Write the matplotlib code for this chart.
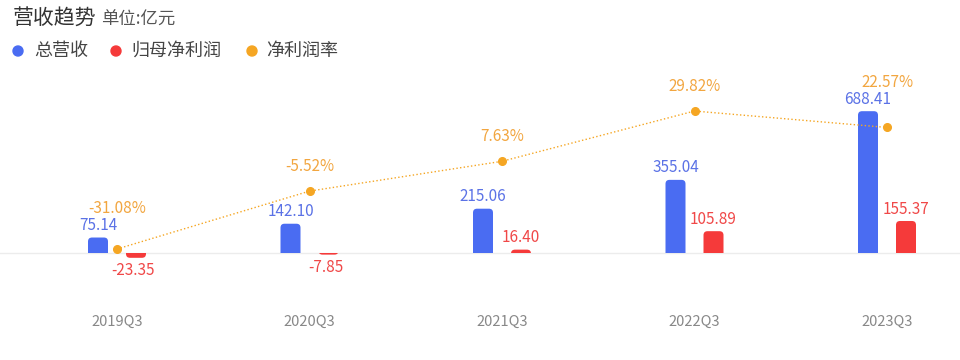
import numpy as np
import matplotlib
matplotlib.use('Agg')
import matplotlib.pyplot as plt
from matplotlib.patches import Ellipse, FancyBboxPatch, Rectangle

plt.rcParams['font.family'] = ['Noto Sans CJK SC', 'DejaVu Sans']

categories = ['2019Q3', '2020Q3', '2021Q3', '2022Q3', '2023Q3']
revenue = [75.14, 142.10, 215.06, 355.04, 688.41]
net_profit = [-23.35, -7.85, 16.40, 105.89, 155.37]
margin = [-31.08, -5.52, 7.63, 29.82, 22.57]

# label lift above the margin points (px), bigger where a bar label sits under it
pct_lift = [41, 25, 25, 25, 45]

BLUE = '#4a6cf2'
RED = '#f53a3a'
ORANGE = '#f5a623'
BLUE_T = '#5b72e6'
RED_T = '#f04848'
ORANGE_T = '#f2a640'

W, H = 960, 360
XPX = 192.5   # px per category
YPX = 0.206   # px per 亿元
fig = plt.figure(figsize=(9.6, 3.6), dpi=100)

def px(x, y):
    return x / W, 1 - y / H

ax = fig.add_axes([0, 60 / H, 1, 230 / H])
x = np.arange(len(categories))
off = 19 / XPX
bw = 20 / XPX

ax.set_xlim(-117 / XPX, (W - 117) / XPX)
ax.set_ylim(-47 / YPX, 183 / YPX)

bars1 = ax.bar(x - off, revenue, width=bw, color=BLUE, zorder=2)
bars2 = ax.bar(x + off, net_profit, width=bw, color=RED, zorder=2)

# swap plain bars for ones with rounded outer corners
r = 4
ext = r / YPX
for b in list(bars1) + list(bars2):
    x0, w, h = b.get_x(), b.get_width(), b.get_height()
    if h >= 0:
        fb = FancyBboxPatch((x0, -ext), w, h + ext,
                            boxstyle=f'round,pad=0,rounding_size={r / XPX}',
                            mutation_aspect=XPX / YPX, fc=b.get_facecolor(), ec='none', zorder=2)
        clip = Rectangle((-10, 0), 100, 1e5, transform=ax.transData)
    else:
        fb = FancyBboxPatch((x0, h), w, -h + ext,
                            boxstyle=f'round,pad=0,rounding_size={r / XPX}',
                            mutation_aspect=XPX / YPX, fc=b.get_facecolor(), ec='none', zorder=2)
        clip = Rectangle((-10, -1e5), 100, 1e5, transform=ax.transData)
    ax.add_patch(fb)
    fb.set_clip_path(clip)
    b.set_visible(False)

ax.axhline(0, color='#ececec', lw=1, zorder=1)

for i in range(len(x)):
    ax.annotate(f'{revenue[i]:.2f}', (x[i] - off, revenue[i]), xytext=(0, 2.5),
                textcoords='offset points', ha='center', va='bottom',
                color=BLUE_T, fontsize=11)
    v = net_profit[i]
    if v >= 0:
        ax.annotate(f'{v:.2f}', (x[i] + off, v), xytext=(0, 2.5),
                    textcoords='offset points', ha='center', va='bottom',
                    color=RED_T, fontsize=11)
    else:
        ax.annotate(f'{v:.2f}', (x[i] + off, v), xytext=(-2, -3),
                    textcoords='offset points', ha='center', va='top',
                    color=RED_T, fontsize=11)

ax.set_xticks(x)
ax.set_xticklabels(categories, color='#888888', fontsize=10.5)
ax.tick_params(axis='x', length=0, pad=11)
ax.set_yticks([])
for s in ax.spines.values():
    s.set_visible(False)
ax.patch.set_alpha(0)

ax2 = ax.twinx()
ax2.set_ylim(-(300 - 178.6) / 2.266, (178.6 - 70) / 2.266)
ax2.plot(x, margin, color=ORANGE, lw=1, ls=':', marker='o', markersize=5.5, zorder=3)
for i in range(len(x)):
    ax2.annotate(f'{margin[i]:.2f}%', (x[i], margin[i]), xytext=(0, pct_lift[i] * 0.72),
                 textcoords='offset points', ha='center', va='center',
                 color=ORANGE_T, fontsize=11)
ax2.set_yticks([])
for s in ax2.spines.values():
    s.set_visible(False)

# title and legend
fig.text(*px(13, 19), '营收趋势', fontsize=15, color='#333333', va='center')
fig.text(*px(101, 20), '单位:亿元', fontsize=12.5, color='#555555', va='center')

legend = [('总营收', BLUE, 18, 34), ('归母净利润', RED, 116, 131), ('净利润率', ORANGE, 252, 266)]
for name, c, dx, tx in legend:
    fig.add_artist(Ellipse(px(dx, 51), 10 / W, 10 / H, color=c,
                           transform=fig.transFigure))
    fig.text(*px(tx, 51), name, fontsize=13, color='#444444', va='center')

fig.savefig('out.png', dpi=100)
